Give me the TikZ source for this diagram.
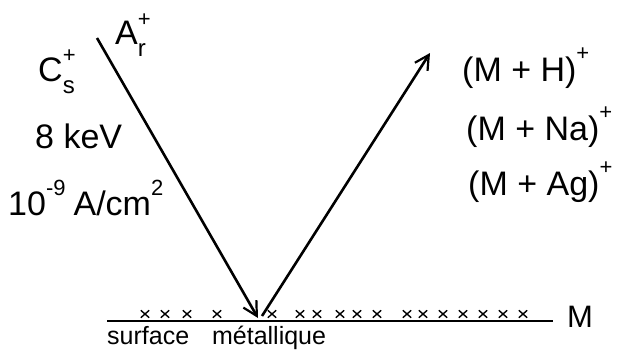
\documentclass[tikz,border=0pt]{standalone}
\usepackage{fontspec}
\setmainfont{Liberation Sans}
\usetikzlibrary{arrows.meta,shapes.misc}
\newcommand\subsup[3]{#1\rlap{\raisebox{0.55em}{\fontsize{22}{22}\selectfont #3}}\raisebox{-0.35em}{\fontsize{24}{24}\selectfont #2}}
\newcommand\supo[1]{\raisebox{0.6em}{\fontsize{22}{22}\selectfont #1}}
\begin{document}
\begin{tikzpicture}[x=1pt,y=-1pt,
  ray/.style={line width=2.6pt,-{Straight Barb[length=14pt,width=15pt,line width=2.2pt]}},
  surf/.style={line width=2.4pt},
  lbl/.style={font=\fontsize{34}{38}\selectfont,inner sep=0pt},
  ion/.style={font=\fontsize{34}{38}\selectfont,inner sep=0pt,anchor=west},
  xmark/.style={cross out,draw,line width=1.4pt,minimum width=7pt,minimum height=6pt,inner sep=0pt}]
\useasboundingbox (0,0) rectangle (628,360);
% surface
\coordinate (sL) at (107,321);
\coordinate (sR) at (553,321);
\draw[surf] (sL) -- (sR);
\node[lbl,anchor=west,font=\fontsize{31}{33}\selectfont] (M) at (567,317) {M};
\node[lbl,anchor=north west,font=\fontsize{25}{27}\selectfont] (surface) at (107,326) {surface \hspace{16pt}métallique};
% crosses
\foreach \x [count=\i] in {145,165,187,217,272,300,317,340,357,377,407,423,443,463,483,503,523}
  \node[xmark] (c\i) at (\x,314) {};
% rays
\coordinate (src) at (97,38);
\coordinate (hit) at (258,318);
\coordinate (hitB) at (262,316);
\coordinate (dst) at (430,53);
\draw[ray] (src) -- (hit);
\draw[ray] (hitB) -- (dst);
% left labels
\node[lbl,anchor=west] (ar) at (115,35) {\subsup{A}{r}{+}};
\node[lbl,anchor=west] (cs) at (38,72) {\subsup{C}{s}{+}};
\node[lbl,anchor=west] (kev) at (35,136) {8 keV};
\node[lbl,anchor=west] (cur) at (8,198) {10\supo{-9}\hspace{8pt}A/cm\supo{2}};
% right labels
\node[ion] (mh) at (462,68) {(M + H)\supo{+}};
\node[ion] (mna) at (466,127) {(M + Na)\supo{+}};
\node[ion] (mag) at (468,182) {(M + Ag)\supo{+}};
\end{tikzpicture}
\end{document}
